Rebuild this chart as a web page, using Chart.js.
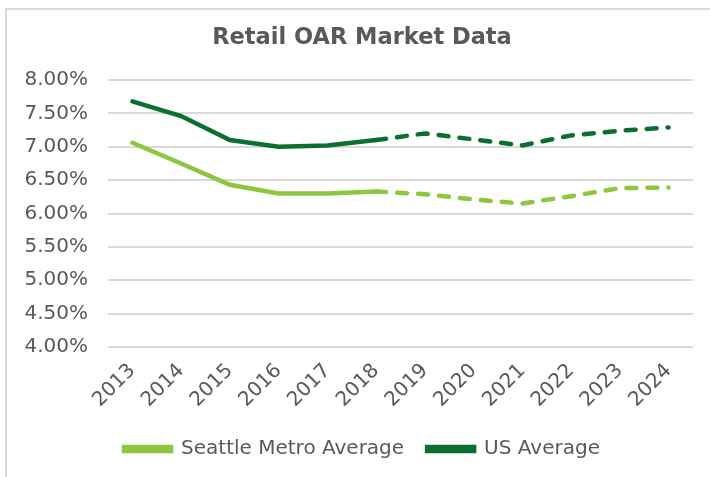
<!DOCTYPE html>
<html>
<head>
<meta charset="utf-8">
<script src="https://cdn.jsdelivr.net/npm/chart.js@4/dist/chart.umd.min.js"></script>
<style>
  body { margin: 0; background: #fff; overflow: hidden; }
  #frame { position: absolute; left: 5px; top: 8px; width: 720px; height: 480px; border: 2px solid #d9d9d9; box-sizing: border-box; }
  #wrap { position: absolute; left: 0; top: 0; width: 710px; height: 477px; }
</style>
</head>
<body>
<div id="frame"></div>
<div id="wrap"><canvas id="chart"></canvas></div>
<script>
// Data
var YEARS = ['2013', '2014', '2015', '2016', '2017', '2018', '2019', '2020', '2021', '2022', '2023', '2024'];
var SEATTLE = [7.06, 6.75, 6.43, 6.30, 6.30, 6.33, 6.29, 6.21, 6.15, 6.26, 6.38, 6.39];
var US_AVG = [7.68, 7.46, 7.10, 7.00, 7.02, 7.10, 7.20, 7.11, 7.02, 7.17, 7.24, 7.29];
var LAST_ACTUAL = 5; // 2018 - dashed from here on
var TITLE = 'Retail OAR Market Data';

var SEATTLE_COLOR = '#8dc63f';
var US_COLOR = '#0c6e30';
var TEXT_COLOR = '#595959';

var FONT = '"DejaVu Sans", Verdana, sans-serif';
var CENTER_X = 362; // title and legend are centred here, not on the canvas

function dashAfterActual(ctx) {
  return ctx.p0DataIndex >= LAST_ACTUAL ? [10, 11] : undefined;
}

var offsetPlugin = {
  id: 'offsetTitle',
  afterLayout: function (chart) {
    // nudge the legend box so it centres where the original one does
    var lg = chart.legend;
    var shift = CENTER_X - (lg.left + lg.right) / 2;
    lg.left += shift;
    lg.right += shift;
  },
  afterDraw: function (chart) {
    var ctx = chart.ctx;
    ctx.save();
    ctx.fillStyle = TEXT_COLOR;
    ctx.font = 'bold 22.5px ' + FONT;
    ctx.textAlign = 'center';
    ctx.textBaseline = 'middle';
    ctx.fillText(TITLE, CENTER_X, 38);
    ctx.restore();
  }
};

new Chart(document.getElementById('chart'), {
  type: 'line',
  data: {
    labels: YEARS,
    datasets: [
      {
        label: 'Seattle Metro Average',
        data: SEATTLE,
        borderColor: SEATTLE_COLOR,
        backgroundColor: SEATTLE_COLOR,
        borderWidth: 4.5,
        borderCapStyle: 'round',
        pointRadius: 0,
        tension: 0,
        segment: { borderDash: dashAfterActual }
      },
      {
        label: 'US Average',
        data: US_AVG,
        borderColor: US_COLOR,
        backgroundColor: US_COLOR,
        borderWidth: 4.5,
        borderCapStyle: 'round',
        pointRadius: 0,
        tension: 0,
        segment: { borderDash: dashAfterActual }
      }
    ]
  },
  plugins: [offsetPlugin],
  options: {
    responsive: true,
    maintainAspectRatio: false,
    animation: false,
    layout: { padding: { left: 12, right: 17, top: 80, bottom: 8 } },
    plugins: {
      title: { display: false },
      legend: {
        position: 'bottom',
        labels: {
          color: TEXT_COLOR,
          font: { family: FONT, size: 20 },
          boxWidth: 47,
          boxHeight: 4,
          padding: 23
        }
      },
      tooltip: { enabled: false }
    },
    scales: {
      x: {
        offset: true,
        grid: { display: false },
        border: { display: false },
        ticks: {
          color: TEXT_COLOR,
          font: { family: FONT, size: 20 },
          minRotation: 45,
          maxRotation: 45,
          padding: 4
        }
      },
      y: {
        min: 4,
        max: 8,
        afterFit: function (scale) { scale.width = 96; },
        grid: { color: '#d9d9d9', lineWidth: 2, drawTicks: false },
        border: { display: false },
        ticks: {
          stepSize: 0.5,
          color: TEXT_COLOR,
          font: { family: FONT, size: 20 },
          padding: 20,
          callback: function (v) { return v.toFixed(2) + '%'; }
        }
      }
    }
  }
});
</script>
</body>
</html>
